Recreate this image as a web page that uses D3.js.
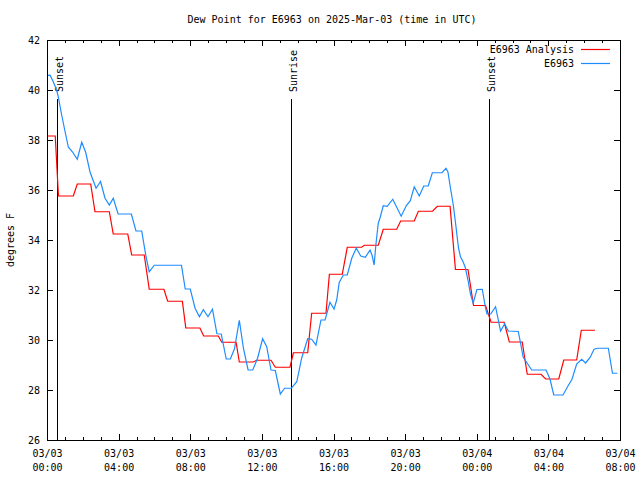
<!DOCTYPE html>
<html><head><meta charset="utf-8">
<script src="https://cdn.jsdelivr.net/npm/d3@7"></script>
<style>
body{margin:0;background:#fff}
text{font-family:"DejaVu Sans Mono","Liberation Mono",monospace;font-size:10px;fill:#000}
</style>
</head><body>
<svg id="chart" width="640" height="480"></svg>
<script>
const chartTitle = "Dew Point for E6963 on 2025-Mar-03 (time in UTC)";
const yLabel = "degrees F";
const startTime = "2025-03-03T00:00:00Z";
const spanHours = 32;
const xTickHours = [0, 4, 8, 12, 16, 20, 24, 28, 32];
const xMinorHours = d3.range(0, 33, 1);
const yTicks = [26, 28, 30, 32, 34, 36, 38, 40, 42];

const seriesNames = ["E6963 Analysis", "E6963"];
const seriesColors = ["#ff0000", "#1e8cff"];

const analysisHours = [0, 0.46, 0.64, 1.47, 1.69, 2.44, 2.68, 3.48, 3.70, 4.51, 4.73, 5.43, 5.71, 6.53, 6.74, 7.56, 7.75, 8.54, 8.75, 9.57, 9.76, 10.56, 10.74, 11.52, 11.71, 12.51, 12.75, 13.57, 13.76, 14.56, 14.78, 15.58, 15.77, 16.49, 16.77, 17.57, 17.72, 18.50, 18.78, 19.53, 19.75, 20.51, 20.74, 21.53, 21.80, 22.51, 22.81, 23.51, 23.82, 24.49, 24.80, 25.53, 25.82, 26.54, 26.82, 27.59, 27.85, 28.58, 28.86, 29.58, 29.84, 30.60];
const analysisValues = [38.16, 38.16, 35.76, 35.76, 36.24, 36.24, 35.13, 35.13, 34.24, 34.24, 33.40, 33.40, 32.03, 32.03, 31.55, 31.55, 30.48, 30.48, 30.16, 30.16, 29.91, 29.91, 29.12, 29.12, 29.19, 29.19, 28.91, 28.91, 29.49, 29.49, 31.07, 31.07, 32.63, 32.63, 33.71, 33.71, 33.79, 33.79, 34.43, 34.43, 34.76, 34.76, 35.15, 35.15, 35.35, 35.35, 32.82, 32.82, 31.38, 31.38, 30.71, 30.71, 29.92, 29.92, 28.63, 28.63, 28.44, 28.44, 29.20, 29.20, 30.39, 30.39];

const obsHours = [0, 0.17, 0.35, 0.54, 0.63, 0.82, 1.01, 1.19, 1.44, 1.69, 1.94, 2.16, 2.40, 2.53, 2.74, 2.99, 3.24, 3.48, 3.70, 3.97, 4.71, 4.97, 5.29, 5.53, 5.71, 5.99, 7.51, 7.72, 8.00, 8.27, 8.51, 8.73, 8.99, 9.24, 9.49, 9.73, 10.01, 10.24, 10.47, 10.74, 10.97, 11.23, 11.49, 11.76, 12.04, 12.27, 12.51, 12.75, 13.03, 13.27, 13.65, 13.95, 14.22, 14.56, 14.78, 15.02, 15.30, 15.53, 15.80, 16.03, 16.18, 16.32, 16.55, 16.77, 17.02, 17.27, 17.52, 17.78, 18.04, 18.15, 18.27, 18.36, 18.50, 18.60, 18.78, 19.00, 19.31, 19.78, 20.07, 20.29, 20.51, 20.79, 21.04, 21.29, 21.52, 22.06, 22.28, 22.39, 22.55, 22.69, 22.84, 22.98, 23.09, 23.23, 23.36, 23.51, 23.65, 23.80, 24.01, 24.31, 24.49, 24.57, 24.78, 25.05, 25.33, 25.56, 25.76, 26.32, 26.44, 26.59, 26.81, 27.07, 27.87, 28.09, 28.30, 28.82, 29.07, 29.32, 29.58, 29.86, 30.08, 30.33, 30.55, 30.75, 31.35, 31.44, 31.58, 31.85];
const obsValues = [40.58, 40.59, 40.33, 40.00, 39.73, 39.00, 38.33, 37.72, 37.51, 37.23, 37.91, 37.51, 36.73, 36.47, 36.07, 36.34, 35.67, 35.40, 35.67, 35.04, 35.04, 34.36, 34.36, 33.33, 32.73, 32.99, 32.99, 32.04, 32.04, 31.27, 30.93, 31.21, 30.93, 31.23, 30.25, 30.24, 29.24, 29.24, 29.65, 30.79, 29.67, 28.80, 28.80, 29.27, 30.05, 29.73, 28.80, 28.78, 27.84, 28.07, 28.07, 28.33, 29.27, 30.05, 30.03, 29.80, 30.80, 30.80, 31.51, 31.24, 31.60, 32.30, 32.60, 32.60, 33.27, 33.68, 33.36, 33.31, 33.60, 33.40, 33.00, 33.76, 34.67, 34.89, 35.37, 35.35, 35.63, 34.95, 35.38, 35.57, 36.13, 35.76, 36.16, 36.16, 36.69, 36.69, 36.87, 36.72, 36.00, 35.40, 34.53, 33.68, 33.33, 33.14, 32.90, 32.40, 31.84, 31.48, 32.02, 32.03, 31.28, 31.04, 31.04, 31.33, 30.36, 30.65, 30.36, 30.34, 29.90, 29.32, 29.08, 28.80, 28.80, 28.44, 27.80, 27.80, 28.13, 28.43, 29.04, 29.23, 29.08, 29.30, 29.63, 29.67, 29.67, 29.27, 28.67, 28.67];

const eventNames = ["Sunset", "Sunrise", "Sunset"];
const eventHours = [0.58, 13.63, 24.68];

const svg = d3.select("#chart");
const W = 640, H = 480;
const L = 47, R = 620, T = 40, B = 440;
const t0 = new Date(startTime);
const toDate = h => new Date(t0.getTime() + h * 3600000);

const x = d3.scaleUtc().domain([t0, toDate(spanHours)]).range([L, R]);
const y = d3.scaleLinear().domain([26, 42]).range([B, T]);

svg.append("rect").attr("width", W).attr("height", H).attr("fill", "#fff");

// minor x ticks (top & bottom)
const g = svg.append("g").attr("shape-rendering", "crispEdges");
g.append("g").attr("transform", `translate(0,${B})`)
  .call(d3.axisBottom(x).tickValues(xMinorHours.map(toDate)).tickSize(-3).tickFormat(""))
  .call(a => a.select(".domain").remove());
g.append("g").attr("transform", `translate(0,${T})`)
  .call(d3.axisTop(x).tickValues(xMinorHours.map(toDate)).tickSize(-3).tickFormat(""))
  .call(a => a.select(".domain").remove());
// major x ticks
const fmtD = d3.utcFormat("%m/%d"), fmtT = d3.utcFormat("%H:%M");
const xb = g.append("g").attr("transform", `translate(0,${B})`)
  .call(d3.axisBottom(x).tickValues(xTickHours.map(toDate)).tickSize(-6).tickPadding(8).tickFormat(""));
xb.select(".domain").remove();
xb.selectAll(".tick").append("text")
  .attr("text-anchor", "middle").attr("y", 17)
  .text(d => fmtD(d));
xb.selectAll(".tick").append("text")
  .attr("text-anchor", "middle").attr("y", 31)
  .text(d => fmtT(d));
g.append("g").attr("transform", `translate(0,${T})`)
  .call(d3.axisTop(x).tickValues(xTickHours.map(toDate)).tickSize(-6).tickFormat(""))
  .call(a => a.select(".domain").remove());

// y ticks
const yl = g.append("g").attr("transform", `translate(${L},0)`)
  .call(d3.axisLeft(y).tickValues(yTicks).tickSize(-6).tickPadding(7).tickFormat(d3.format("d")));
yl.select(".domain").remove();
yl.selectAll("text").attr("dy", "0.35em").style("font-size", "10px").style("font-family", '"DejaVu Sans Mono",monospace');
g.append("g").attr("transform", `translate(${R},0)`)
  .call(d3.axisRight(y).tickValues(yTicks).tickSize(-6).tickFormat(""))
  .call(a => a.select(".domain").remove());
g.selectAll(".tick line").attr("stroke", "#000");

// events
eventHours.forEach((h, i) => {
  const ex = Math.round(x(toDate(h))) + 0.5;
  svg.append("line").attr("x1", ex).attr("x2", ex).attr("y1", 99).attr("y2", B)
    .attr("stroke", "#000").attr("stroke-width", 1).attr("shape-rendering", "crispEdges");
  svg.append("text")
    .attr("transform", `translate(${ex + 5},92) rotate(-90)`)
    .attr("text-anchor", "start")
    .text(eventNames[i]);
});

// series
const line = d3.line().x(d => x(toDate(d[0]))).y(d => y(d[1]));
const series = [d3.zip(analysisHours, analysisValues), d3.zip(obsHours, obsValues)];
series.forEach((s, i) => {
  svg.append("path").datum(s).attr("d", line)
    .attr("fill", "none").attr("stroke", seriesColors[i]).attr("stroke-width", 1.2);
});

// border
svg.append("rect").attr("x", L + 0.5).attr("y", T + 0.5).attr("width", R - L).attr("height", B - T)
  .attr("fill", "none").attr("stroke", "#000").attr("shape-rendering", "crispEdges");

// legend
seriesNames.forEach((n, i) => {
  const ly = 53 + i * 14;
  svg.append("text").attr("x", 574).attr("y", ly).attr("text-anchor", "end").text(n);
  svg.append("line").attr("x1", 581).attr("x2", 610).attr("y1", ly - 3.5).attr("y2", ly - 3.5)
    .attr("stroke", seriesColors[i]).attr("stroke-width", 1.2);
});

// titles
svg.append("text").attr("x", 332).attr("y", 23).attr("text-anchor", "middle").text(chartTitle);
svg.append("text").attr("transform", "translate(14,240) rotate(-90)").attr("text-anchor", "middle").text(yLabel);
</script>
</body></html>
